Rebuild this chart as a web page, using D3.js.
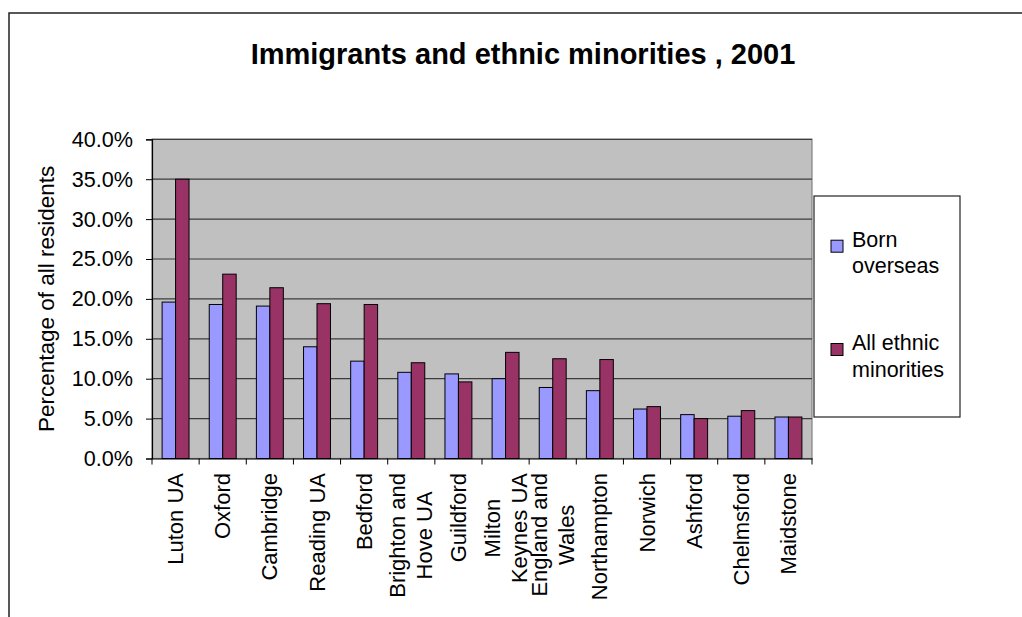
<!DOCTYPE html>
<html>
<head>
<meta charset="utf-8">
<script src="https://cdn.jsdelivr.net/npm/d3@7"></script>
<style>
  html, body { margin: 0; padding: 0; background: #fff; }
  svg { display: block; }
  text { font-family: "Liberation Sans", Arial, sans-serif; fill: #000; }
</style>
</head>
<body>
<svg id="chart" width="1022" height="617"></svg>
<script>
const categories = ["Luton UA", "Oxford", "Cambridge", "Reading UA", "Bedford",
  "Brighton and\nHove UA", "Guildford", "Milton\nKeynes UA", "England and\nWales",
  "Northampton", "Norwich", "Ashford", "Chelmsford", "Maidstone"];
const bornOverseas = [19.6, 19.3, 19.1, 14.0, 12.2, 10.8, 10.6, 10.0, 8.9, 8.5, 6.2, 5.5, 5.3, 5.2];
const allEthnicMinorities = [35.0, 23.1, 21.4, 19.4, 19.3, 12.0, 9.6, 13.3, 12.5, 12.4, 6.5, 5.0, 6.0, 5.2];
const seriesNames = ["Born\noverseas", "All ethnic\nminorities"];
const seriesColors = ["#9999FF", "#993366"];
const yTicks = [0, 5, 10, 15, 20, 25, 30, 35, 40];
const title = "Immigrants and ethnic minorities , 2001";
const yTitle = "Percentage of all residents";

const svg = d3.select("#chart");
const plot = { left: 152, right: 812, top: 139.3, bottom: 458.5 };

// outer chart border
svg.append("path")
  .attr("d", `M9,617 L9,13 L1022,13`)
  .attr("fill", "none").attr("stroke", "#222").attr("stroke-width", 1.5);

// title
svg.append("text")
  .attr("x", 523).attr("y", 64)
  .attr("text-anchor", "middle")
  .attr("font-size", 29).attr("font-weight", "bold")
  .text(title);

const x = d3.scaleBand().domain(categories).range([plot.left, plot.right]).paddingInner(0).paddingOuter(0);
const y = d3.scaleLinear().domain([0, 40]).range([plot.bottom, plot.top]);

// plot background
svg.append("rect")
  .attr("x", plot.left).attr("y", plot.top)
  .attr("width", plot.right - plot.left).attr("height", plot.bottom - plot.top)
  .attr("fill", "#C0C0C0").attr("stroke", "#808080").attr("stroke-width", 1.2);

// gridlines
svg.append("g").selectAll("line").data(yTicks.filter(d => d > 0)).join("line")
  .attr("x1", plot.left).attr("x2", plot.right)
  .attr("y1", d => y(d)).attr("y2", d => y(d))
  .attr("stroke", "#3c3c3c").attr("stroke-width", 1.2);

// bars
const bw = x.bandwidth();
const barW = bw / 3.5;
const series = [bornOverseas, allEthnicMinorities];
series.forEach((vals, si) => {
  svg.append("g").selectAll("rect").data(vals).join("rect")
    .attr("x", (d, i) => x(categories[i]) + 0.75 * barW + si * barW)
    .attr("y", d => y(d))
    .attr("width", barW)
    .attr("height", d => y(0) - y(d))
    .attr("fill", seriesColors[si])
    .attr("stroke", "#000").attr("stroke-width", 1);
});

// y axis
const yAxis = d3.axisLeft(y).tickValues(yTicks).tickSize(6).tickPadding(13)
  .tickFormat(d => d.toFixed(1) + "%");
const yg = svg.append("g").attr("transform", `translate(${plot.left},0)`).call(yAxis);
yg.select(".domain").attr("stroke", "#000").attr("stroke-width", 1.2);
yg.selectAll(".tick line").attr("stroke", "#000");
yg.selectAll(".tick text").attr("font-size", 21.6)
  .attr("font-family", '"Liberation Sans", Arial, sans-serif').attr("fill", "#000");

// x axis ticks (between categories)
const xAxis = d3.axisBottom(x).tickSize(0).tickFormat("");
const xg = svg.append("g").attr("transform", `translate(0,${plot.bottom})`).call(xAxis);
xg.select(".domain").attr("stroke", "#000").attr("stroke-width", 1.2);
const boundaries = categories.map(c => x(c)).concat([plot.right]);
xg.append("g").selectAll("line").data(boundaries).join("line")
  .attr("x1", d => d).attr("x2", d => d).attr("y1", 0).attr("y2", 6)
  .attr("stroke", "#000");

// x labels rotated
const lh = 27;
categories.forEach(c => {
  const lines = c.split("\n");
  const g = svg.append("g")
    .attr("transform", `translate(${x(c) + bw / 2},473) rotate(-90)`);
  const texts = lines.map((ln, i) => g.append("text")
    .attr("font-size", 22)
    .attr("text-anchor", "middle")
    .attr("dominant-baseline", "central")
    .attr("y", (i - (lines.length - 1) / 2) * lh)
    .text(ln));
  const maxLen = d3.max(texts, t => t.node().getComputedTextLength());
  texts.forEach(t => t.attr("x", -maxLen / 2));
});

// y title
svg.append("text")
  .attr("transform", `translate(46,${(plot.top + plot.bottom) / 2}) rotate(-90)`)
  .attr("text-anchor", "middle").attr("dominant-baseline", "central")
  .attr("font-size", 22.5)
  .text(yTitle);

// legend
const lg = svg.append("g");
lg.append("rect").attr("x", 814).attr("y", 196).attr("width", 146).attr("height", 221)
  .attr("fill", "#fff").attr("stroke", "#222").attr("stroke-width", 1.2);
const legendY = [246.7, 350];
seriesNames.forEach((name, i) => {
  lg.append("rect").attr("x", 831).attr("y", legendY[i] - 6.5).attr("width", 12).attr("height", 12)
    .attr("fill", seriesColors[i]).attr("stroke", "#000").attr("stroke-width", 1);
  name.split("\n").forEach((ln, j) => {
    lg.append("text").attr("x", 852).attr("y", legendY[i] + j * 26.6)
      .attr("font-size", 21.5).text(ln);
  });
});
</script>
</body>
</html>
